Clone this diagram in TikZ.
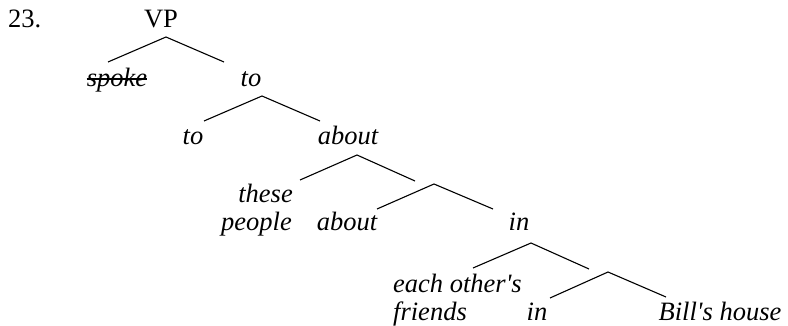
\documentclass[tikz,border=0pt]{standalone}
\usepackage{fontspec}
\setmainfont{Liberation Serif}[Ligatures=TeXOff]
\begin{document}
\begin{tikzpicture}[x=1pt,y=-1pt,
  lbl/.style={inner sep=0pt, anchor=base, font=\fontsize{26.5}{28}\selectfont\itshape},
  rlbl/.style={inner sep=0pt, anchor=base, font=\fontsize{26.5}{28}\selectfont},
  branch/.style={line width=1.1pt},
  strike/.style={line width=1.2pt}]
\useasboundingbox (0,0) rectangle (788,326);
% labels
\node[rlbl, anchor=base west] (num) at (8,28) {23.};
\node[rlbl] (vp) at (161,28) {VP};
\node[lbl] (spoke) at (117,87) {spoke};
\node[lbl] (to1) at (251,87) {to};
\node[lbl] (to2) at (193,145) {to};
\node[lbl] (about1) at (348,145) {about};
\node[lbl, anchor=base east] (these) at (293,203) {these};
\node[lbl, anchor=base east] (people) at (292,231) {people};
\node[lbl] (about2) at (347,231) {about};
\node[lbl] (in1) at (519,231) {in};
\node[lbl, anchor=base west] (each) at (393,292) {each other's};
\node[lbl, anchor=base west] (friends) at (393,320) {friends};
\node[lbl] (in2) at (537,320) {in};
\node[lbl] (bills) at (720,320) {Bill's house};
% strike through spoke
\draw[strike] ([yshift=8pt]spoke.base west) -- ([yshift=8pt]spoke.base east);
% branch points
\coordinate (a1) at (166,37); \coordinate (l1) at (108,62); \coordinate (r1) at (224,62);
\coordinate (a2) at (262,96); \coordinate (l2) at (204,121); \coordinate (r2) at (320,121);
\coordinate (a3) at (357,155); \coordinate (l3) at (300,180); \coordinate (r3) at (415,181);
\coordinate (a4) at (434,184); \coordinate (l4) at (377,209); \coordinate (r4) at (493,209);
\coordinate (a5) at (531,243); \coordinate (l5) at (473,268); \coordinate (r5) at (589,269);
\coordinate (a6) at (608,272); \coordinate (l6) at (550,298); \coordinate (r6) at (666,297);
\foreach \i in {1,...,6}{
  \draw[branch] (l\i) -- (a\i) -- (r\i);
}
\end{tikzpicture}
\end{document}
